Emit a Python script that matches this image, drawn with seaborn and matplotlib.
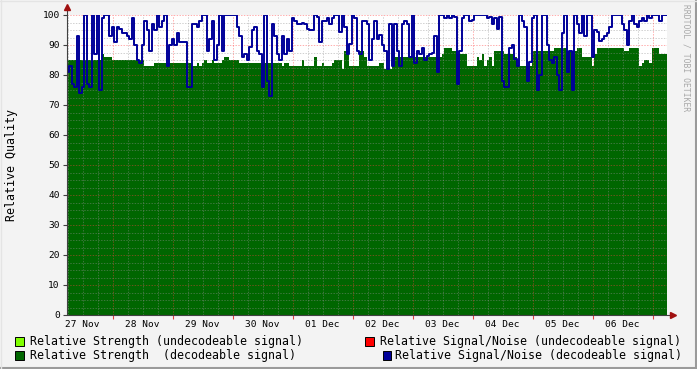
import matplotlib
matplotlib.use("Agg")
import matplotlib.pyplot as plt
import matplotlib.ticker as mticker
import matplotlib.dates as mdates
from matplotlib.lines import Line2D
from matplotlib.patches import Rectangle
import pandas as pd
import seaborn as sns

# ---------------- data (hourly samples) ----------------
start_time = "2023-11-27 05:43"
span_days = 10

snr_decodeable = [
    81, 83, 77, 76, 93, 74, 76, 100, 77, 76, 100, 87, 100, 75, 99, 100, 100, 93, 96, 91,
    96, 95.5, 94, 94, 93, 92, 99, 90, 85, 84, 90, 98, 95, 88, 97, 95, 100, 96, 98, 100,
    83, 90, 92, 90, 94, 91, 91, 91, 76, 76, 97, 97, 96, 98, 100, 100, 88, 92, 98, 85,
    90, 100, 88, 100, 100, 100, 100, 100, 96, 93, 86, 87, 85, 89.5, 95, 96, 88, 87, 76, 100,
    78, 73, 97, 93, 87, 85, 93, 87, 92, 88, 99, 98, 97, 97, 97.5, 97, 95.5, 95, 95, 100,
    99.5, 91, 98, 98, 99, 97, 99, 100, 100, 94.5, 100, 96, 87, 90.5, 100, 99, 88, 87, 98, 98,
    97, 85, 92, 98, 92, 93.5, 90, 88, 82, 97, 83, 97, 88, 83, 97, 98, 97, 86, 100, 84,
    88, 87, 89, 85, 86.5, 87, 87.5, 93, 81, 100, 100, 99, 100, 99, 100, 99.5, 77, 88, 99, 100,
    100, 98, 98.5, 100, 100, 100, 100, 100, 99, 99.5, 97, 99, 95.5, 99.5, 78, 76, 76, 89, 90, 85.5,
    83, 100, 98, 96, 78, 84.5, 99, 100, 75, 80, 100, 100, 90, 85, 84, 86, 80, 75, 94, 100,
    81, 88, 75, 100, 97, 94, 100, 93, 100, 100, 86, 95, 94.5, 91.5, 92, 93, 94, 96, 100, 100,
    100, 100, 97, 95, 90, 98, 100, 97, 96, 98, 99, 98, 100, 99, 100, 100, 100, 98, 100, 100,
]

strength_decodeable = [
    85, 85, 85, 85, 85, 85, 85, 85, 85, 85, 85, 85, 85, 85, 87, 86, 86, 86, 85, 85,
    85, 85, 85, 85, 85, 85, 85, 85, 85, 85, 85, 83, 83, 83, 83, 84, 84, 84, 84, 84,
    84, 84, 84, 84, 84, 84, 84, 84, 84, 84, 83, 83, 84, 83, 84, 85, 84, 84, 85, 84,
    84, 84, 85, 86, 86, 85, 85, 85, 85, 84, 84, 84, 84, 84, 84, 84, 84, 84, 84, 84,
    84, 84, 84, 84, 84, 84, 83, 84, 84, 83, 83, 83, 83, 83, 85, 83, 83, 83, 83, 86,
    83, 83, 84, 83, 83, 83, 84, 85, 85, 85, 82, 88, 88, 83, 83, 83, 83, 88, 88, 86,
    83, 83, 83, 83, 83, 84, 84, 82, 82, 82, 89, 86, 86, 86, 86, 86, 86, 86, 86, 86,
    86, 86, 86, 86, 86, 86, 86, 86, 86, 86, 87, 89, 89, 89, 88, 88, 87, 87, 87, 87,
    83, 83, 83, 83, 86, 85, 87, 83, 85, 86, 83, 88, 88, 88, 88, 87, 87, 87, 87, 86,
    83, 83, 83, 83, 83, 83, 88, 88, 88, 88, 88, 88, 88, 88, 88, 89, 89, 89, 89, 89,
    88, 88, 88, 88, 89, 89, 86, 86, 86, 86, 83, 87, 89, 89, 89, 89, 89, 89, 89, 89,
    89, 89, 89, 88, 88, 89, 89, 89, 89, 83, 84, 85, 85, 84, 89, 89, 89, 87, 87, 87,
]

y_ticks = [0, 10, 20, 30, 40, 50, 60, 70, 80, 90, 100]
legend_labels = [
    "Relative Strength (undecodeable signal)",
    "Relative Signal/Noise (undecodeable signal)",
    "Relative Strength  (decodeable signal)",
    "Relative Signal/Noise (decodeable signal)",
]
y_title = "Relative Quality"
watermark = "RRDTOOL / TOBI OETIKER"

# ---------------- style ----------------
sns.set_style("white")
plt.rcParams["font.family"] = ["DejaVu Sans Mono"]

GREEN = "#006600"
LIGHT_GREEN = "#80FF00"
RED = "#FF0000"
BLUE = "#000099"
BG = "#F3F3F3"

W, H = 697, 369
fig = plt.figure(figsize=(W / 100, H / 100), dpi=100, facecolor=BG)
ax = fig.add_axes([67 / W, (H - 315) / H, 600 / W, 300 / H])
ax.set_facecolor("white")

t0 = pd.Timestamp(start_time)
t_end = t0 + pd.Timedelta(days=span_days)
times = list(pd.date_range(t0, periods=len(snr_decodeable), freq="h")) + [t_end]

df = pd.DataFrame({
    "time": times,
    "strength": strength_decodeable + [strength_decodeable[-1]],
    "snr": snr_decodeable + [snr_decodeable[-1]],
})

ax.fill_between(df["time"], df["strength"], step="post", color=GREEN, lw=0, zorder=2)
sns.lineplot(data=df, x="time", y="snr", ax=ax, color=BLUE, lw=1.4,
             drawstyle="steps-post", estimator=None, zorder=4, legend=False)

ax.set_xlim(t0, t_end)
ax.set_ylim(0, 100)
ax.set_xlabel("")
ax.set_ylabel("")
ax.grid(False)

# grid (dotted, drawn over the area like rrdtool)
dots = (0, (1.4, 1.4))
MINOR_C, MINOR_A = "#909090", 0.42
MAJOR_C, MAJOR_A = "#FF4040", 0.42
for v in [i * 2.5 for i in range(1, 41)]:
    if v % 10 == 0:
        ax.axhline(v, color=MAJOR_C, alpha=MAJOR_A, lw=0.72, ls=dots, zorder=3)
    else:
        ax.axhline(v, color=MINOR_C, alpha=MINOR_A, lw=0.72, ls=dots, zorder=3)

midnights = pd.date_range(t0.normalize() + pd.Timedelta(days=1), t_end, freq="D")
six_h = pd.date_range(t0.ceil("6h"), t_end, freq="6h")
for t in six_h:
    if t.hour == 0:
        ax.axvline(t, color=MAJOR_C, alpha=MAJOR_A, lw=0.72, ls=dots, zorder=3)
    else:
        ax.axvline(t, color=MINOR_C, alpha=MINOR_A, lw=0.72, ls=dots, zorder=3)

noons = pd.date_range(t0.normalize() + pd.Timedelta(hours=12), t_end, freq="D")
ax.yaxis.set_major_locator(mticker.FixedLocator(y_ticks))
ax.xaxis.set_major_locator(mticker.FixedLocator(mdates.date2num(midnights)))
ax.xaxis.set_major_formatter(mticker.NullFormatter())
ax.xaxis.set_minor_locator(mticker.FixedLocator(mdates.date2num(noons)))
ax.xaxis.set_minor_formatter(mdates.DateFormatter("%d %b"))
ax.tick_params(axis="x", which="major", length=3, width=0.8, color="#E04040", direction="out")
ax.tick_params(axis="x", which="minor", length=0, pad=3.5, labelsize=6.8, labelcolor="black")
ax.tick_params(axis="y", which="major", length=3, width=0.8, color="#404040", direction="out",
               pad=2.2, labelsize=6.8, labelcolor="black")
ax.tick_params(left=True, bottom=True)

for s in ax.spines.values():
    s.set_visible(False)

# axis lines with arrows
axis_col = "#404040"
ax.add_line(Line2D([0, 0], [0, 1.025], transform=ax.transAxes, color=axis_col, lw=0.8, clip_on=False, zorder=6))
ax.add_line(Line2D([0, 1.009], [0, 0], transform=ax.transAxes, color=axis_col, lw=0.8, clip_on=False, zorder=6))
ax.plot([0], [1.027], marker="^", ms=4, color="#A01010", transform=ax.transAxes, clip_on=False, zorder=7)
ax.plot([1.01], [0], marker=">", ms=4, color="#A01010", transform=ax.transAxes, clip_on=False, zorder=7)

# titles
fig.text(12 / W, 1 - 165 / H, y_title, rotation=90, ha="center", va="center", fontsize=8.4, color="black")
fig.text(686 / W, 1 - 4 / H, watermark, rotation=270, ha="center", va="top", fontsize=5.8, color="#A8A8A8")

# legend
def legend_item(xbox, yc, color, label, xtext):
    fig.patches.append(Rectangle((xbox / W, 1 - (yc + 4.5) / H), 8.5 / W, 9 / H,
                                 transform=fig.transFigure, facecolor=color,
                                 edgecolor="black", lw=0.7))
    fig.text(xtext / W, 1 - yc / H, label, ha="left", va="center", fontsize=8.4, color="black")

legend_item(15, 341, LIGHT_GREEN, legend_labels[0], 30)
legend_item(365, 341, RED, legend_labels[1], 380)
legend_item(15, 355, GREEN, legend_labels[2], 30)
legend_item(383, 355, BLUE, legend_labels[3], 395)

# frame (3D-ish border like rrdtool)
fig.add_artist(Line2D([0, 1], [1 / H, 1 / H], transform=fig.transFigure, color="#9A9A9A", lw=1.5))
fig.add_artist(Line2D([1 - 1 / W, 1 - 1 / W], [0, 1], transform=fig.transFigure, color="#9A9A9A", lw=1.5))
fig.add_artist(Line2D([0, 1], [1 - 0.5 / H, 1 - 0.5 / H], transform=fig.transFigure, color="#E4E4E4", lw=1))
fig.add_artist(Line2D([0.5 / W, 0.5 / W], [0, 1], transform=fig.transFigure, color="#E4E4E4", lw=1))

fig.savefig("out.png", dpi=100, facecolor=BG)
